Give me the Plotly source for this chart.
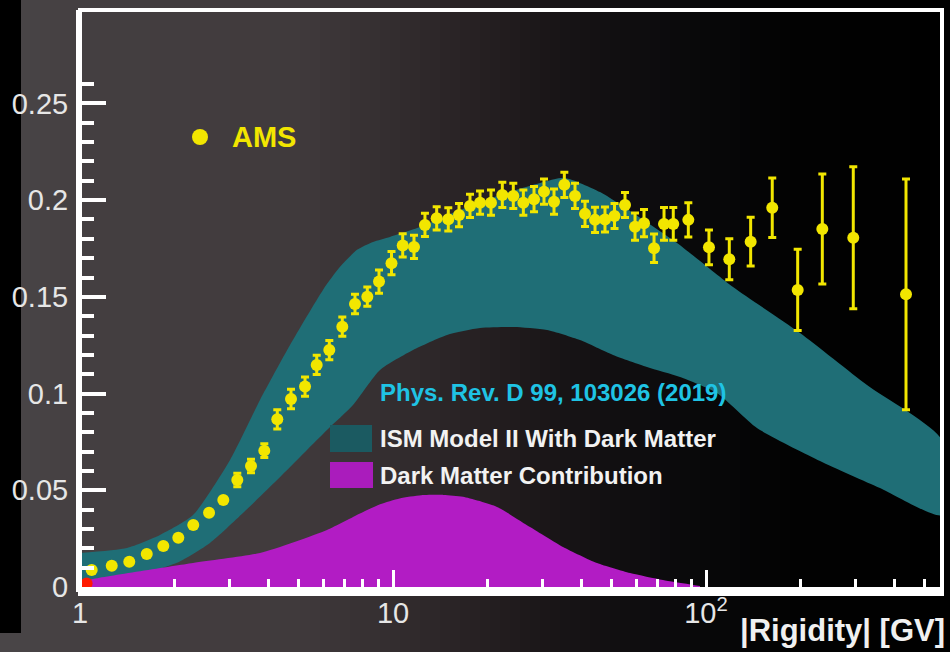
import plotly.graph_objects as go

# ---------------- data ----------------
rigidity = [1.090, 1.263, 1.437, 1.634, 1.846, 2.061, 2.301, 2.584, 2.870, 3.181,
            3.518, 3.880, 4.269, 4.722, 5.235, 5.705, 6.259, 6.887, 7.561, 8.278,
            9.022, 9.890, 10.74, 11.67, 12.65, 13.79, 15.02, 16.25, 17.62, 18.97,
            20.56, 22.35, 24.23, 26.09, 28.22, 30.37, 32.69, 35.27, 38.15, 41.06,
            44.20, 47.56, 51.02, 55.11, 59.32, 63.38, 68.23, 73.43, 78.61, 87.81,
            102.2, 118.7, 138.9, 162.8, 196.3, 235.3, 295.5, 435.5]
ratio = [0.0088, 0.0110, 0.0131, 0.0171, 0.0212, 0.0255, 0.0321, 0.0384, 0.0450, 0.0553,
         0.0626, 0.0705, 0.0867, 0.0972, 0.1036, 0.1148, 0.1225, 0.1346, 0.1463, 0.1501,
         0.1579, 0.1674, 0.1766, 0.1758, 0.1872, 0.1906, 0.1901, 0.1923, 0.1970, 0.1987,
         0.1987, 0.2027, 0.2022, 0.1987, 0.2005, 0.2044, 0.1992, 0.2079, 0.2022, 0.1929,
         0.1898, 0.1900, 0.1918, 0.1975, 0.1863, 0.1881, 0.1751, 0.1877, 0.1877, 0.1898,
         0.1756, 0.1694, 0.1785, 0.1961, 0.1536, 0.1851, 0.1806, 0.1513]
ratio_err = [0.001, 0.001, 0.001, 0.001, 0.001, 0.001, 0.001, 0.001, 0.001, 0.0035,
             0.0035, 0.0035, 0.005, 0.005, 0.005, 0.005, 0.005, 0.005, 0.005, 0.005,
             0.006, 0.006, 0.006, 0.006, 0.006, 0.006, 0.006, 0.006, 0.006, 0.006,
             0.0065, 0.0065, 0.0065, 0.0065, 0.0065, 0.0065, 0.0065, 0.0065, 0.0065, 0.0065,
             0.0065, 0.0065, 0.0065, 0.0065, 0.007, 0.007, 0.0074, 0.0085, 0.0085, 0.0088,
             0.009, 0.0106, 0.0126, 0.0154, 0.021, 0.0284, 0.0367, 0.0596]

ism_upper_x = [1.0, 1.413, 1.801, 2.296, 3.015, 3.759, 4.688, 5.975, 6.772,
               7.674, 8.633, 9.782, 12.20, 16.37, 21.98, 29.49, 35.44, 45.85, 58.46,
               80.80, 122.0, 199.7, 326.9, 567.5]
ism_upper_y = [0.0176, 0.0202, 0.0269, 0.0372, 0.0657, 0.0967, 0.1251, 0.1536, 0.1655,
               0.1743, 0.1784, 0.1810, 0.1861, 0.1949, 0.2027, 0.2089, 0.2115, 0.2042, 0.1934,
               0.1779, 0.1551, 0.1313, 0.1044, 0.0760]
ism_lower_x = [1.0, 1.444, 2.041, 2.602, 3.317, 4.261, 6.153, 7.451, 9.090, 11.59,
               14.88, 18.97, 24.17, 31.05, 39.57, 50.46, 64.78, 82.60, 108.4, 145.5,
               231.3, 359.6, 567.5]
ism_lower_y = [0.0005, 0.0050, 0.0125, 0.0228, 0.0383, 0.0553, 0.0812, 0.0941, 0.1122, 0.1225,
               0.1303, 0.1339, 0.1344, 0.1329, 0.1277, 0.1200, 0.1138, 0.1086, 0.1003, 0.0822,
               0.0652, 0.0512, 0.0372]

dm_x = [1.0, 1.100, 2.296, 3.759, 6.153, 7.845, 9.090, 10.5, 12.3, 14.5, 16.74,
        21.49, 27.40, 34.92, 44.85, 57.18, 72.88, 95.7]
dm_y = [0.0021, 0.0041, 0.0124, 0.0176, 0.0295, 0.0380, 0.0428, 0.0458, 0.0474, 0.0476, 0.0466,
        0.0414, 0.0310, 0.0207, 0.0124, 0.0072, 0.0036, 0.0005]

low_point_x = [1.05]
low_point_y = [0.0018]

y_tickvals = [0, 0.05, 0.1, 0.15, 0.2, 0.25]
y_ticktext = ["0", "0.05", "0.1", "0.15", "0.2", "0.25"]
y_minor = [0.01, 0.02, 0.03, 0.04, 0.06, 0.07, 0.08, 0.09, 0.11, 0.12, 0.13, 0.14,
           0.16, 0.17, 0.18, 0.19, 0.21, 0.22, 0.23, 0.24, 0.26]
x_tickvals = [1, 10, 100]
x_ticktext = ["1", "10", "10<sup>2</sup>"]
x_minor = [2, 3, 4, 5, 6, 7, 8, 9, 20, 30, 40, 50, 60, 70, 80, 90, 200, 300, 400, 500]

# ---------------- styling ----------------
W, H = 950, 652
L, R, T, B = 80, 8, 10, 65
PW, PH = W - L - R, H - T - B
YELLOW = "#f2e600"
TEAL = "#1f6e76"
MAGENTA = "#b21cc4"
FONT = "Liberation Sans, Arial, sans-serif"


def px(x):
    return (x - L) / PW


def py(y):
    return (H - B - y) / PH


fig = go.Figure()

fig.add_trace(go.Scatter(
    x=ism_upper_x + ism_lower_x[::-1], y=ism_upper_y + ism_lower_y[::-1],
    fill="toself", fillcolor=TEAL, mode="lines", line=dict(width=0, color=TEAL, shape="spline", smoothing=0.6),
    hoverinfo="skip", showlegend=False))
fig.add_trace(go.Scatter(
    x=dm_x, y=dm_y, fill="tozeroy", fillcolor=MAGENTA, mode="lines",
    line=dict(width=0, color=MAGENTA, shape="spline", smoothing=0.6), hoverinfo="skip", showlegend=False))
fig.add_trace(go.Scatter(
    x=low_point_x, y=low_point_y, mode="markers",
    marker=dict(color="#ff1a00", size=12, symbol="circle"), showlegend=False, cliponaxis=False))
fig.add_trace(go.Scatter(
    x=rigidity, y=ratio, mode="markers",
    marker=dict(color=YELLOW, size=12),
    error_y=dict(type="data", array=ratio_err, color=YELLOW, thickness=3, width=4),
    showlegend=False))

shapes = []
# background gradient
stops = [(0, (74, 70, 72)), (80, (68, 63, 65)), (300, (64, 58, 60)), (400, (50, 44, 46)),
         (480, (38, 32, 34)), (560, (24, 20, 22)), (640, (14, 13, 15)), (720, (7, 7, 8)),
         (800, (2, 2, 2)), (950, (0, 0, 0))]


def col(xp):
    for (a, ca), (b, cb) in zip(stops[:-1], stops[1:]):
        if a <= xp <= b:
            t = (xp - a) / (b - a)
            return "rgb(%d,%d,%d)" % tuple(round(ca[i] + t * (cb[i] - ca[i])) for i in range(3))
    return "rgb(0,0,0)"


step = 10
for x0 in range(0, W, step):
    shapes.append(dict(type="rect", xref="paper", yref="paper", layer="below",
                       x0=px(x0), x1=px(x0 + step + 1), y0=py(H), y1=py(0),
                       fillcolor=col(x0 + step / 2), line=dict(width=0)))
shapes.append(dict(type="rect", xref="paper", yref="paper", layer="below",
                   x0=px(0), x1=px(21), y0=py(633), y1=py(0),
                   fillcolor="black", line=dict(width=0)))
# frame
shapes.append(dict(type="rect", xref="paper", yref="paper", layer="above",
                   x0=px(80), x1=px(942), y0=py(594), y1=py(10),
                   fillcolor="rgba(0,0,0,0)", line=dict(color="white", width=4)))
# legend swatches
shapes.append(dict(type="rect", xref="paper", yref="paper", layer="above",
                   x0=px(330), x1=px(372), y0=py(452), y1=py(425),
                   fillcolor="#1b5a61", line=dict(width=0)))
shapes.append(dict(type="rect", xref="paper", yref="paper", layer="above",
                   x0=px(330), x1=px(373), y0=py(488), y1=py(462),
                   fillcolor="#aa1cbc", line=dict(width=0)))
shapes.append(dict(type="circle", xref="paper", yref="paper", layer="above",
                   x0=px(192), x1=px(208), y0=py(145), y1=py(129),
                   fillcolor=YELLOW, line=dict(width=0)))

annotations = [
    dict(text="<b>AMS</b>", x=px(230), y=py(137), xref="paper", yref="paper",
         xanchor="left", yanchor="middle", showarrow=False,
         font=dict(family=FONT, size=29, color=YELLOW)),
    dict(text="<b>Phys. Rev. D 99, 103026 (2019)</b>", x=px(378), y=py(393), xref="paper", yref="paper",
         xanchor="left", yanchor="middle", showarrow=False,
         font=dict(family=FONT, size=24, color="#1fc3e4")),
    dict(text="<b>ISM Model II With Dark Matter</b>", x=px(378), y=py(438), xref="paper", yref="paper",
         xanchor="left", yanchor="middle", showarrow=False,
         font=dict(family=FONT, size=24, color="#f2f2f2")),
    dict(text="<b>Dark Matter Contribution</b>", x=px(378), y=py(475), xref="paper", yref="paper",
         xanchor="left", yanchor="middle", showarrow=False,
         font=dict(family=FONT, size=24, color="#f2f2f2")),
    dict(text="<b>|Rigidity| [GV]</b>", x=px(947), y=py(630), xref="paper", yref="paper",
         xanchor="right", yanchor="middle", showarrow=False,
         font=dict(family=FONT, size=31, color="#f0f0f0")),
]

fig.update_layout(
    width=W, height=H,
    margin=dict(l=L, r=R, t=T, b=B, autoexpand=False),
    paper_bgcolor="#000000", plot_bgcolor="rgba(0,0,0,0)",
    shapes=shapes, annotations=annotations, showlegend=False,
    xaxis=dict(type="log", range=[0, 2.754], showgrid=False, zeroline=False, automargin=False,
               showline=True, linecolor="white", linewidth=5,
               ticks="inside", ticklen=17, tickwidth=3, tickcolor="white",
               tickmode="array", tickvals=x_tickvals, ticktext=x_ticktext,
               ticklabelstandoff=-4,
               tickfont=dict(family=FONT, size=29, color="#e6e6e6"),
               minor=dict(tickmode="array", tickvals=x_minor, ticks="inside",
                          ticklen=8, tickwidth=3, tickcolor="white", showgrid=False)),
    yaxis=dict(range=[0, 0.2983], showgrid=False, zeroline=False, automargin=False,
               showline=True, linecolor="white", linewidth=4,
               ticks="inside", ticklen=26, tickwidth=4, tickcolor="white",
               tickmode="array", tickvals=y_tickvals, ticktext=y_ticktext,
               ticklabelstandoff=2,
               tickfont=dict(family=FONT, size=29, color="#e6e6e6"),
               minor=dict(tickmode="array", tickvals=y_minor, ticks="inside",
                          ticklen=14, tickwidth=4, tickcolor="white", showgrid=False)),
)

fig.write_html("out.html", config={"displayModeBar": False},
               post_script="document.body.style.margin='0';document.body.style.overflow='hidden';")
